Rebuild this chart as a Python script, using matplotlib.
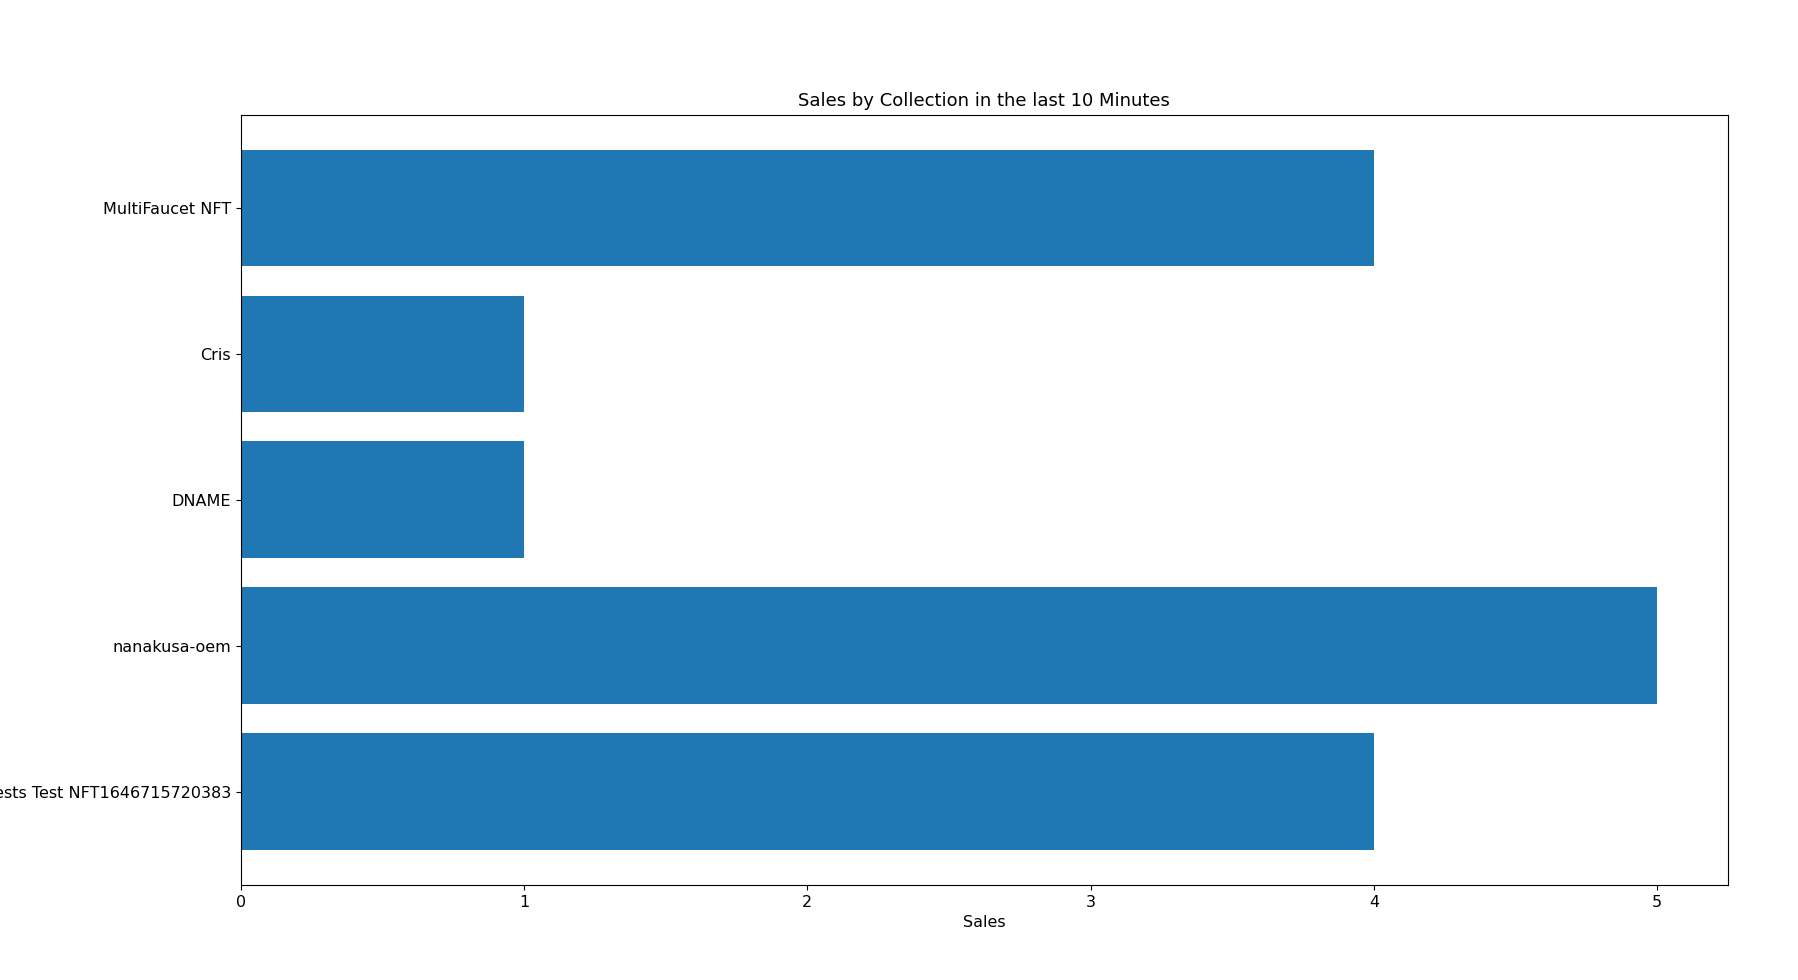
import matplotlib
matplotlib.use("Agg")
import matplotlib.pyplot as plt

collections = ["Tests Test NFT1646715720383", "nanakusa-oem", "DNAME", "Cris", "MultiFaucet NFT"]
sales = [4, 5, 1, 1, 4]

fig = plt.figure(figsize=(17.98, 9.8), dpi=100)
ax = fig.add_axes([0.134, 0.097, 0.827, 0.786])
ax.barh(collections, sales, color="#1f77b4")
ax.set_title("Sales by Collection in the last 10 Minutes", fontsize=13)
ax.set_xlabel("Sales", fontsize=11.5)
ax.tick_params(labelsize=11.5)
fig.savefig("out.png", dpi=100)
